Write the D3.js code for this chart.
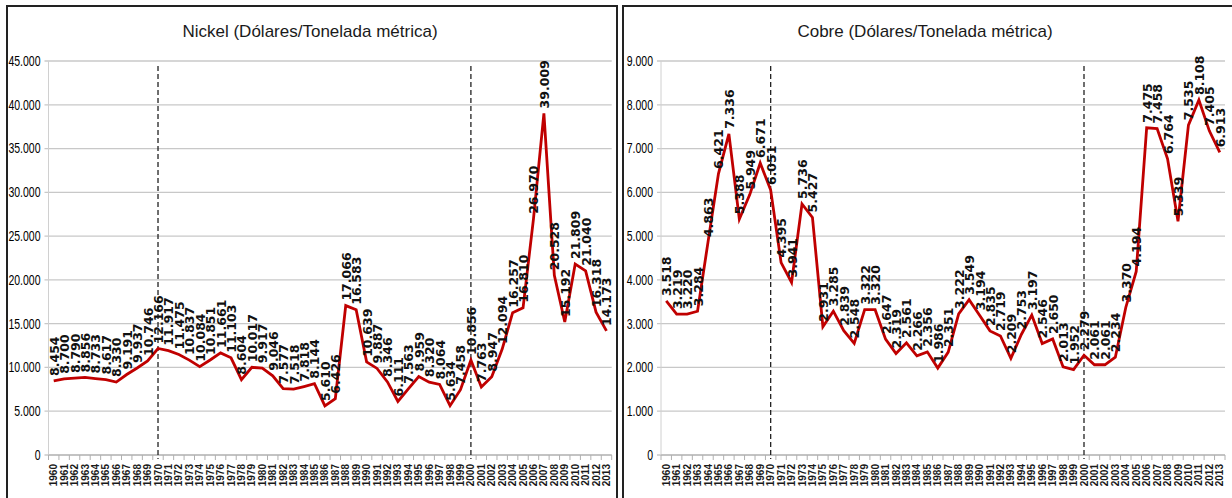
<!DOCTYPE html>
<html>
<head>
<meta charset="utf-8">
<script src="https://cdn.jsdelivr.net/npm/d3@7"></script>
<style>
  body { margin: 0; background: #fff; }
  svg { display: block; }
  .title { font-family: "Liberation Sans", Arial, sans-serif; font-size: 17px; fill: #1a1a1a; }
  .ytick { font-family: "Liberation Sans", Arial, sans-serif; font-size: 14px; fill: #000; }
  .xtick { font-family: "Liberation Sans", Arial, sans-serif; font-size: 10px; font-weight: bold; fill: #1a1a1a; }
  .vlabel { font-family: "DejaVu Sans", sans-serif; font-size: 12.5px; font-weight: bold; fill: #111; }
</style>
</head>
<body>
<div id="chart"></div>
<script>
// años 1960-2013
const years = d3.range(1960, 2014);

const nickel = [8454, 8700, 8790, 8856, 8733, 8617, 8330, 9191, 9937, 10746,
    12166, 11917, 11475, 10837, 10084, 10851, 11661, 11103, 8604, 10017,
    9917, 9046, 7577, 7518, 7818, 8144, 5610, 6426, 17066, 16583,
    10639, 9887, 8346, 6111, 7563, 8959, 8320, 8064, 5634, 7458,
    10856, 7763, 8947, 12094, 16257, 16810, 26970, 39009, 20528, 15192,
    21809, 21040, 16318, 14173];

const cobre = [3518, 3219, 3220, 3284, 4863, 6421, 7336, 5388, 5949, 6671,
    6051, 4395, 3941, 5736, 5427, 2931, 3285, 2839, 2548, 3322,
    3320, 2647, 2319, 2561, 2266, 2356, 1986, 2351, 3222, 3549,
    3194, 2835, 2719, 2209, 2753, 3197, 2546, 2650, 2013, 1952,
    2279, 2061, 2061, 2234, 3370, 4194, 7475, 7458, 6764, 5339,
    7535, 8108, 7405, 6913];

const nickelTicks = [0, 5000, 10000, 15000, 20000, 25000, 30000, 35000, 40000, 45000];
const cobreTicks = [0, 1000, 2000, 3000, 4000, 5000, 6000, 7000, 8000, 9000];
const markerYears = [1970, 2000];

const width = 1232;
const height = 498;

const locale = d3.formatLocale({ decimal: ",", thousands: ".", grouping: [3], currency: ["", ""] });
const fmt = locale.format(",d");

const svg = d3.select("#chart").append("svg")
    .attr("width", width)
    .attr("height", height);

function drawPanel(opts) {
    const g = svg.append("g");

    // marco del panel
    g.append("rect")
        .attr("x", opts.box[0])
        .attr("y", opts.box[1])
        .attr("width", opts.box[2])
        .attr("height", opts.box[3])
        .attr("fill", "none")
        .attr("stroke", "#222")
        .attr("stroke-width", 2);

    g.append("text")
        .attr("class", "title")
        .attr("x", opts.titleX)
        .attr("y", 37)
        .attr("text-anchor", "middle")
        .text(opts.title);

    const xScale = d3.scaleBand().domain(years).range([opts.left, opts.right]);
    const yScale = d3.scaleLinear().domain([0, d3.max(opts.ticks)]).range([455, 61]);
    const cx = d => xScale(d) + xScale.bandwidth() / 2;

    // rejilla
    g.selectAll("line.grid")
        .data(opts.ticks)
        .enter()
        .append("line")
        .attr("x1", opts.left - 4)
        .attr("x2", opts.right)
        .attr("y1", d => yScale(d))
        .attr("y2", d => yScale(d))
        .attr("stroke", "#c8c8c8")
        .attr("stroke-width", 1.3);

    // etiquetas del eje y, estrechadas para parecerse a Calibri
    g.selectAll("text.ytick")
        .data(opts.ticks)
        .enter()
        .append("text")
        .attr("class", "ytick")
        .attr("transform", d => `translate(${opts.left - 8},${yScale(d)}) scale(0.75,1)`)
        .attr("dy", "0.35em")
        .attr("text-anchor", "end")
        .text(d => fmt(d));

    g.append("line")
        .attr("x1", opts.left)
        .attr("x2", opts.left)
        .attr("y1", yScale(d3.max(opts.ticks)))
        .attr("y2", yScale(0))
        .attr("stroke", "#d0d0d0")
        .attr("stroke-width", 1);

    // eje x
    const xAxis = g.append("g")
        .attr("transform", `translate(0,${yScale(0)})`);

    xAxis.append("line")
        .attr("x1", opts.left)
        .attr("x2", opts.right)
        .attr("stroke", "#b0b0b0");

    xAxis.selectAll("line.tick")
        .data(years.concat([null]))
        .enter()
        .append("line")
        .attr("x1", d => d === null ? opts.right : xScale(d))
        .attr("x2", d => d === null ? opts.right : xScale(d))
        .attr("y1", 0)
        .attr("y2", 5)
        .attr("stroke", "#b0b0b0");

    xAxis.selectAll("text")
        .data(years)
        .enter()
        .append("text")
        .attr("class", "xtick")
        .attr("transform", d => `translate(${cx(d) + 3.5},9) rotate(-90)`)
        .attr("text-anchor", "end")
        .text(d => d);

    // líneas discontinuas
    g.selectAll("line.marker")
        .data(markerYears)
        .enter()
        .append("line")
        .attr("x1", d => cx(d))
        .attr("x2", d => cx(d))
        .attr("y1", 66)
        .attr("y2", yScale(0) + 4)
        .attr("stroke", "#222")
        .attr("stroke-width", 1.3)
        .attr("stroke-dasharray", "5,3");

    const line = d3.line()
        .x((d, i) => cx(years[i]))
        .y(d => yScale(d));

    g.append("path")
        .attr("d", line(opts.values))
        .attr("fill", "none")
        .attr("stroke", "#c00000")
        .attr("stroke-width", 2.8)
        .attr("stroke-linejoin", "miter");

    g.selectAll("text.vlabel")
        .data(opts.values)
        .enter()
        .append("text")
        .attr("class", "vlabel")
        .attr("transform", (d, i) => `translate(${cx(years[i]) + 5},${yScale(d) - 5}) rotate(-90)`)
        .text(d => fmt(d));
}

drawPanel({
    title: "Nickel (Dólares/Tonelada métrica)",
    box: [7, 6, 610, 500],
    titleX: 310,
    left: 48.5,
    right: 611.7,
    ticks: nickelTicks,
    values: nickel
});

drawPanel({
    title: "Cobre (Dólares/Tonelada métrica)",
    box: [623, 6, 620, 500],
    titleX: 925,
    left: 661,
    right: 1225,
    ticks: cobreTicks,
    values: cobre
});
</script>
</body>
</html>
